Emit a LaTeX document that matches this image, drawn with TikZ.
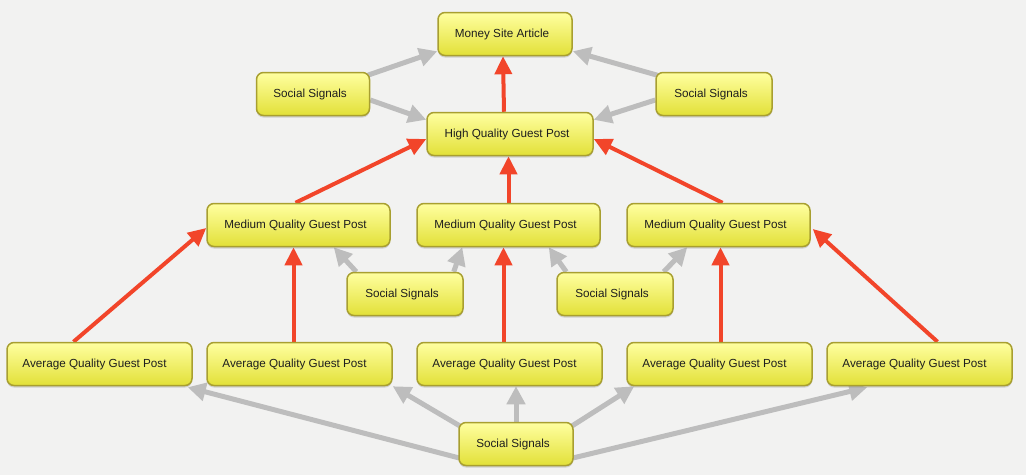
\documentclass[tikz,border=0pt]{standalone}
\usepackage{fontspec}
\setmainfont{Liberation Sans}
\usetikzlibrary{arrows.meta,shadows,calc}
\definecolor{bgc}{HTML}{F2F2F1}
\definecolor{boxtop}{HTML}{FFFFA0}
\definecolor{boxbot}{HTML}{E2E038}
\definecolor{boxline}{HTML}{A89F30}
\definecolor{txt}{HTML}{1E1E1E}
\definecolor{arrred}{HTML}{F2452A}
\definecolor{arrgray}{HTML}{BDBDBD}
\pgfdeclarelayer{bglayer}
\pgfsetlayers{bglayer,main}
\begin{document}
\begin{tikzpicture}[x=1pt,y=1pt,
  box/.style={rounded corners=7pt, draw=boxline, line width=1.5pt,
    top color=boxtop, bottom color=boxbot, minimum height=43pt, inner sep=0pt,
    font=\fontsize{11.7}{14}\selectfont, text=txt,
    drop shadow={opacity=0.3, shadow xshift=0pt, shadow yshift=-2pt}},
  redarr/.style={draw=arrred, line width=4pt, -{Triangle[length=18pt,width=17pt]}},
  grayarr/.style={draw=arrgray, line width=5pt, -{Triangle[length=18pt,width=18pt]}}]

\node[box, minimum width=134pt] (msa) at (505,-34) {Money Site Article\hspace*{6pt}};
\node[box, minimum width=113pt] (sstl) at (313,-94) {Social Signals\hspace*{6pt}};
\node[box, minimum width=116pt] (sstr) at (714,-94) {Social Signals\hspace*{6pt}};
\node[box, minimum width=166pt] (hq) at (510,-134) {High Quality Guest Post\hspace*{6pt}};

\node[box, minimum width=183pt] (m1) at (298.5,-225) {Medium Quality Guest Post\hspace*{6pt}};
\node[box, minimum width=183pt] (m2) at (508.5,-225) {Medium Quality Guest Post\hspace*{6pt}};
\node[box, minimum width=183pt] (m3) at (718.5,-225) {Medium Quality Guest Post\hspace*{6pt}};

\node[box, minimum width=116pt] (ssm1) at (405,-294) {Social Signals\hspace*{6pt}};
\node[box, minimum width=116pt] (ssm2) at (615,-294) {Social Signals\hspace*{6pt}};

\node[box, minimum width=185pt] (a1) at (99.5,-364) {Average Quality Guest Post\hspace*{10pt}};
\node[box, minimum width=185pt] (a2) at (299.5,-364) {Average Quality Guest Post\hspace*{10pt}};
\node[box, minimum width=185pt] (a3) at (509.5,-364) {Average Quality Guest Post\hspace*{10pt}};
\node[box, minimum width=185pt] (a4) at (719.5,-364) {Average Quality Guest Post\hspace*{10pt}};
\node[box, minimum width=185pt] (a5) at (919.5,-364) {Average Quality Guest Post\hspace*{10pt}};

\node[box, minimum width=114pt] (ssb) at (516,-444) {Social Signals\hspace*{6pt}};

\begin{pgfonlayer}{bglayer}
\fill[bgc] (0,0) rectangle (1026,-475);
% red arrows
\draw[redarr] ($(hq.north)+(-6,0)$) -- ($(msa.south)+(-2,0)$);
\draw[redarr] ($(m1.north)+(-3,0)$) -- ($(hq.west)+(0,-5)$);
\draw[redarr] (m2.north) -- (m2.north |- hq.south);
\draw[redarr] ($(m3.north)+(4,0)$) -- ($(hq.east)+(0,-5)$);
\draw[redarr] ($(a1.north)+(-26,0)$) -- ($(m1.west)+(0,-3)$);
\draw[redarr] ($(a2.north)+(-6,0)$) -- ($(a2.north |- m1.south)+(-6,0)$);
\draw[redarr] ($(a3.north)+(-6,0)$) -- ($(a3.north |- m2.south)+(-6,0)$);
\draw[redarr] ($(a4.north)+(1,0)$) -- ($(a4.north |- m3.south)+(1,0)$);
\draw[redarr] ($(a5.north)+(18,0)$) -- ($(m3.east)+(2,-4)$);
% gray arrows
\draw[grayarr] ($(sstl.north east)+(-4,-4)$) -- ($(msa.south west)+(0,5)$);
\draw[grayarr] ($(sstl.east)+(0,-6)$) -- ($(hq.north west)+(0,-8)$);
\draw[grayarr] ($(sstr.north west)+(4,-4)$) -- ($(msa.south east)+(0,5)$);
\draw[grayarr] ($(sstr.west)+(0,-6)$) -- ($(hq.north east)+(0,-8)$);
\draw[grayarr] ($(ssm1.north west)+(10,0)$) -- ($(m1.south east)+(-57,0)$);
\draw[grayarr] ($(ssm1.north east)+(-10,0)$) -- ($(m2.south west)+(46,0)$);
\draw[grayarr] ($(ssm2.north west)+(10,0)$) -- ($(m2.south east)+(-52,0)$);
\draw[grayarr] ($(ssm2.north east)+(-10,0)$) -- ($(m3.south west)+(61,0)$);
\draw[grayarr] ($(ssb.south west)+(2,8)$) -- ($(a1.south east)+(-5,-1)$);
\draw[grayarr] ($(ssb.north west)+(3,-5)$) -- (a2.south east);
\draw[grayarr] (ssb.north) -- (ssb.north |- a3.south);
\draw[grayarr] ($(ssb.north east)+(-3,-5)$) -- ($(a4.south west)+(8,0)$);
\draw[grayarr] ($(ssb.south east)+(-2,8)$) -- ($(a5.south west)+(41,-1)$);
\end{pgfonlayer}
\end{tikzpicture}
\end{document}
